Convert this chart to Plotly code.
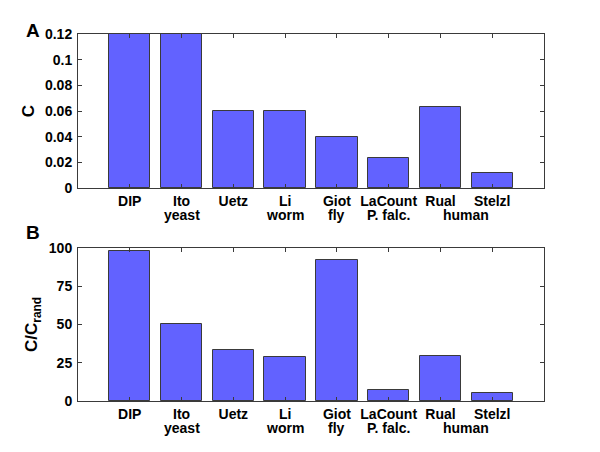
import plotly.graph_objects as go

# ---- data ----
datasets = ["DIP", "Ito", "Uetz", "Li", "Giot", "LaCount", "Rual", "Stelzl"]
positions = [1, 2, 3, 4, 5, 6, 7, 8]
clustering_C = [0.12, 0.12, 0.06, 0.06, 0.04, 0.023, 0.063, 0.0115]
ratio_C_Crand = [97.8, 50.5, 33.6, 28.8, 92.4, 7.2, 29.3, 5.2]
organism_labels = ["yeast", "worm", "fly", "P. falc.", "human"]
organism_positions = [2, 4, 5, 6, 7.5]
ytick_A = [0, 0.02, 0.04, 0.06, 0.08, 0.1, 0.12]
ytick_A_text = ["0", "0.02", "0.04", "0.06", "0.08", "0.1", "0.12"]
ytick_B = [0, 25, 50, 75, 100]

FONT = "Liberation Sans, Arial, Helvetica, sans-serif"
FS = 14
BAR_COLOR = "#6262ff"
LINE_COLOR = "#3a3a3a"
W, H = 600, 452
OFF = 8  # page body margin


def px_x(p):
    return (p - OFF) / W


def px_y(p):
    return 1 - (p - OFF) / H


fig = go.Figure()
fig.add_trace(go.Bar(x=positions, y=clustering_C, width=0.8, xaxis="x", yaxis="y",
                     marker=dict(color=BAR_COLOR, line=dict(color=LINE_COLOR, width=1)),
                     showlegend=False))
fig.add_trace(go.Bar(x=positions, y=ratio_C_Crand, width=0.8, xaxis="x2", yaxis="y2",
                     marker=dict(color=BAR_COLOR, line=dict(color=LINE_COLOR, width=1)),
                     showlegend=False))

common_x = dict(range=[0, 9], tickvals=positions,
                ticktext=["<b>" + d + "</b>" for d in datasets],
                showline=True, linecolor=LINE_COLOR, linewidth=1, mirror="allticks",
                ticks="inside", ticklen=4, tickcolor=LINE_COLOR, showgrid=False,
                zeroline=False, automargin=False, ticklabelstandoff=0,
                tickfont=dict(family=FONT, size=FS, color="black"),
                domain=[px_x(78), px_x(544)])
common_y = dict(showline=True, linecolor=LINE_COLOR, linewidth=1, mirror="allticks",
                ticks="inside", ticklen=4, tickcolor=LINE_COLOR, showgrid=False,
                zeroline=False, automargin=False, ticklabelstandoff=2,
                tickfont=dict(family=FONT, size=FS, color="black"))

fig.update_layout(
    width=W, height=H,
    margin=dict(l=0, r=0, t=0, b=0),
    paper_bgcolor="white", plot_bgcolor="white",
    bargap=0,
    font=dict(family=FONT, size=FS, color="black"),
    xaxis=dict(**common_x, anchor="y"),
    yaxis=dict(**common_y, range=[0, 0.12], tickvals=ytick_A,
               ticktext=["<b>" + t + "</b>" for t in ytick_A_text],
               domain=[px_y(188), px_y(34)], anchor="x",
               title=dict(text="<b>C</b>", standoff=6, font=dict(size=17))),
    xaxis2=dict(**common_x, anchor="y2"),
    yaxis2=dict(**common_y, range=[0, 100], tickvals=ytick_B,
                ticktext=["<b>" + str(t) + "</b>" for t in ytick_B],
                domain=[px_y(401), px_y(248)], anchor="x2",
                title=dict(text="<b>C/C<sub>rand</sub></b>", standoff=6, font=dict(size=17))),
)

annotations = []
for xa, ya in (("x", "y domain"), ("x2", "y2 domain")):
    for lab, pos in zip(organism_labels, organism_positions):
        annotations.append(dict(x=pos, y=0, xref=xa, yref=ya, text="<b>" + lab + "</b>",
                                showarrow=False, yanchor="middle", yshift=-27,
                                font=dict(family=FONT, size=FS, color="black")))
annotations.append(dict(x=px_x(24), y=px_y(18.5), xref="paper", yref="paper", text="<b>A</b>",
                        showarrow=False, font=dict(family=FONT, size=19, color="black")))
annotations.append(dict(x=px_x(24), y=px_y(232), xref="paper", yref="paper", text="<b>B</b>",
                        showarrow=False, font=dict(family=FONT, size=19, color="black")))
fig.update_layout(annotations=annotations)

fig.write_html("out.html")
